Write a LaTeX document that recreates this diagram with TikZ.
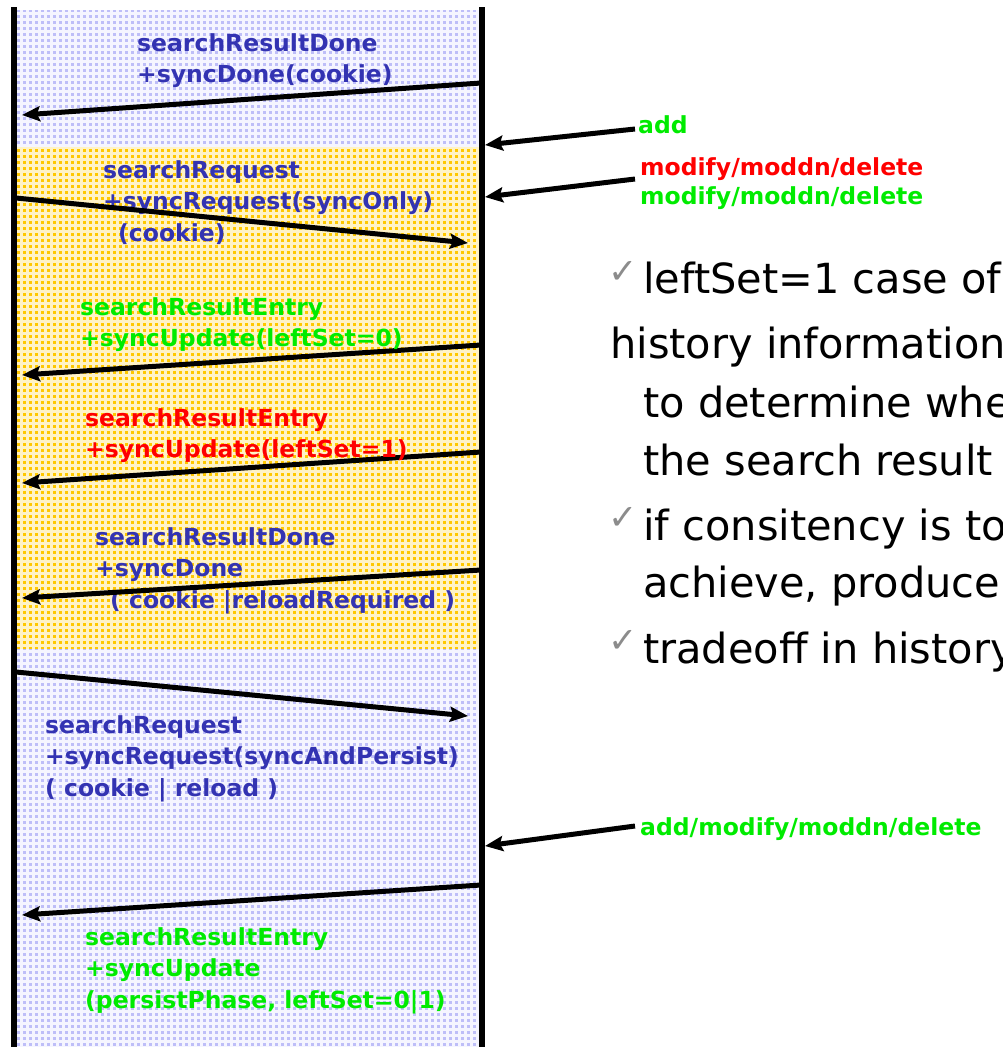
\documentclass[tikz,border=0pt]{standalone}
\usepackage{fontspec}
\setmainfont{DejaVu Sans}
\usetikzlibrary{positioning}
\usetikzlibrary{arrows.meta}
\usetikzlibrary{patterns}
\definecolor{msgblue}{RGB}{51,51,178}
\definecolor{msggreen}{RGB}{0,235,0}
\definecolor{msgred}{RGB}{255,0,0}
\definecolor{lavdot}{RGB}{190,190,248}
\definecolor{lavbase}{RGB}{245,245,255}
\definecolor{golddot}{RGB}{255,200,0}
\definecolor{goldbase}{RGB}{255,243,198}
\definecolor{tickgray}{RGB}{140,140,140}
\pgfdeclarepatternformonly{squaredots}{\pgfqpoint{0pt}{0pt}}{\pgfqpoint{5.5pt}{5.5pt}}{\pgfqpoint{5.5pt}{5.5pt}}{%
  \pgfpathrectangle{\pgfqpoint{1.2pt}{1.2pt}}{\pgfqpoint{3pt}{3pt}}\pgfusepath{fill}}
\tikzset{
  msg/.style={-{Stealth[length=18pt,width=15pt,inset=3pt]}, line width=5pt},
  lifeline/.style={line width=6pt},
  lbl/.style={anchor=north west, inner sep=0pt, align=left, font=\fontsize{23.5}{31.5}\selectfont\bfseries},
  note/.style={anchor=base west, inner sep=0pt, font=\fontsize{41.5}{49}\selectfont},
  tick/.style={anchor=base west, inner sep=0pt, text=tickgray, font=\fontsize{35}{38}\selectfont},
}

\begin{document}
\begin{tikzpicture}[x=1pt, y=-1pt]
      \useasboundingbox (0,0) rectangle (1003,1047);
      \begin{scope}
      \clip (0,0) rectangle (1003,1047);
      \fill[lavbase] (17,10) rectangle (479,147);
      \fill[pattern=squaredots, pattern color=lavdot] (17,10) rectangle (479,147);
      \fill[goldbase] (17,147) rectangle (479,649);
      \fill[pattern=squaredots, pattern color=golddot] (17,147) rectangle (479,649);
      \fill[lavbase] (17,649) rectangle (479,1047);
      \fill[pattern=squaredots, pattern color=lavdot] (17,649) rectangle (479,1047);

      \coordinate (ltop) at (14,7);
      \coordinate (lbot) at (14,1047);
      \coordinate (rtop) at (481.5,7);
      \coordinate (rbot) at (481.5,1047);
      \draw[lifeline] (ltop) -- (lbot);
      \draw[lifeline] (rtop) -- (rbot);

      \node[lbl, text=msgblue] (done1) at (137,33) {searchResultDone\\+syncDone(cookie)};
      \node[lbl, text=msgblue] (req1) at (103,160) {searchRequest\\+syncRequest(syncOnly)\\\hspace*{15pt}(cookie)};
      \node[lbl, text=msgblue] (done2) at (95,527) {searchResultDone\\+syncDone\\\hspace*{15pt}( cookie |reloadRequired )};
      \node[lbl, text=msgblue] (req2) at (45,715) {searchRequest\\+syncRequest(syncAndPersist)\\( cookie | reload )};
      \node[lbl, text=msggreen] (entry3) at (85,927) {searchResultEntry\\+syncUpdate\\(persistPhase, leftSet=0|1)};

      \node[lbl, text=msggreen] (add) at (638,115) {add};
      \node[lbl, text=msgred] (mod) at (640,157) {modify/moddn/delete\\[-2pt]\textcolor{msggreen}{modify/moddn/delete}};
      \node[lbl, text=msggreen] (all) at (640,817) {add/modify/moddn/delete};

      \coordinate (r1) at (481,83);   \coordinate (l1) at (22,115);
      \coordinate (a2) at (635,129);  \coordinate (r2) at (485,145);
      \coordinate (a3) at (635,179);  \coordinate (r3) at (485,197);
      \coordinate (l4) at (16,198);   \coordinate (r4) at (468,243);
      \coordinate (r5) at (481,345);  \coordinate (l5) at (22,375);
      \coordinate (r6) at (481,452);  \coordinate (l6) at (22,483);
      \coordinate (r7) at (481,570);  \coordinate (l7) at (22,598);
      \coordinate (l8) at (16,672);   \coordinate (r8) at (468,716);
      \coordinate (a9) at (635,826);  \coordinate (r9) at (485,846);
      \coordinate (r10) at (481,885); \coordinate (l10) at (22,915);

      \draw[msg] (r1) -- (l1);
      \draw[msg] (a2) -- (r2);
      \draw[msg] (a3) -- (r3);
      \draw[msg] (l4) -- (r4);
      \draw[msg] (r5) -- (l5);
      \draw[msg] (r6) -- (l6);
      \draw[msg] (r7) -- (l7);
      \draw[msg] (l8) -- (r8);
      \draw[msg] (a9) -- (r9);
      \draw[msg] (r10) -- (l10);

      \node[lbl, text=msggreen] (entry1) at (80,297) {searchResultEntry\\+syncUpdate(leftSet=0)};
      \node[lbl, text=msgred] (entry2) at (85,408) {searchResultEntry\\+syncUpdate(leftSet=1)};

      \node[tick] (k1) at (608,283) {✓};
      \node[note] (n1) at (643,293) {leftSet=1 case of};
      \node[note] (n2) at (610,358) {history information};
      \node[note] (n3) at (643,417) {to determine whe};
      \node[note] (n4) at (643,475) {the search result};
      \node[tick] (k2) at (608,529) {✓};
      \node[note] (n5) at (643,540) {if consitency is to};
      \node[note] (n6) at (643,597) {achieve, produce};
      \node[tick] (k3) at (608,652) {✓};
      \node[note] (n7) at (643,663) {tradeoff in history};
      \end{scope}
    \end{tikzpicture}
\end{document}
